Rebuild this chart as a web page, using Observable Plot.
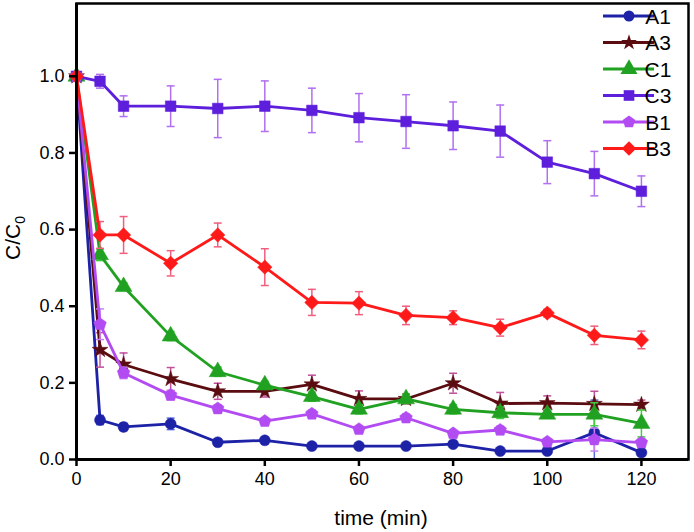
<!DOCTYPE html>
<html>
<head>
<meta charset="utf-8">
<script src="https://cdn.jsdelivr.net/npm/d3@7"></script>
<script src="https://cdn.jsdelivr.net/npm/@observablehq/plot@0.6"></script>
<style>
  body { margin: 0; background: white; }
  #chart { position: relative; width: 694px; height: 532px; }
</style>
</head>
<body>
<div id="chart"></div>
<script>
// ---- data ----
const time = [0, 5, 10, 20, 30, 40, 50, 60, 70, 80, 90, 100, 110, 120];
const seriesNames = ["A1", "A3", "C1", "C3", "B1", "B3"];

const A1 = [1.0, 0.103, 0.085, 0.093, 0.045, 0.050, 0.035, 0.035, 0.035, 0.040, 0.022, 0.022, 0.070, 0.018];
const A1err = [0, 0.012, 0.010, 0.015, 0.008, 0.008, 0.006, 0.006, 0.006, 0.006, 0.006, 0.006, 0.085, 0.006];

const A3 = [1.0, 0.286, 0.248, 0.210, 0.178, 0.178, 0.196, 0.158, 0.158, 0.199, 0.146, 0.147, 0.145, 0.143];
const A3err = [0, 0.045, 0.030, 0.030, 0.021, 0.015, 0.024, 0.021, 0.013, 0.026, 0.029, 0.019, 0.033, 0.012];

const C1 = [1.0, 0.534, 0.451, 0.322, 0.229, 0.194, 0.164, 0.131, 0.158, 0.131, 0.122, 0.118, 0.118, 0.094];
const C1err = [0, 0.015, 0.010, 0.012, 0.012, 0.010, 0.012, 0.012, 0.012, 0.012, 0.015, 0.010, 0.030, 0.035];

const C3 = [1.0, 0.987, 0.922, 0.922, 0.916, 0.922, 0.911, 0.892, 0.882, 0.871, 0.857, 0.776, 0.746, 0.700];
const C3err = [0, 0.018, 0.027, 0.053, 0.076, 0.066, 0.058, 0.063, 0.070, 0.062, 0.068, 0.056, 0.058, 0.040];

const B1 = [1.0, 0.353, 0.226, 0.168, 0.133, 0.100, 0.119, 0.079, 0.109, 0.068, 0.077, 0.046, 0.052, 0.044];
const B1err = [0, 0.040, 0.015, 0.012, 0.010, 0.008, 0.010, 0.008, 0.010, 0.008, 0.010, 0.008, 0.030, 0.010];

const B3 = [1.0, 0.586, 0.586, 0.512, 0.586, 0.502, 0.410, 0.408, 0.376, 0.370, 0.344, 0.382, 0.324, 0.312];
const B3err = [0, 0.035, 0.048, 0.033, 0.031, 0.048, 0.034, 0.030, 0.024, 0.018, 0.022, 0.010, 0.024, 0.023];

const xTicks = [0, 20, 40, 60, 80, 100, 120];
const yTicks = [0.0, 0.2, 0.4, 0.6, 0.8, 1.0];

// ---- styles ----
const pentagon = {
  draw(context, size) {
    const r = Math.sqrt(size / Math.PI) * 1.1;
    for (let k = 0; k < 5; k++) {
      const a = -Math.PI / 2 + k * 2 * Math.PI / 5;
      const x = r * Math.cos(a), y = r * Math.sin(a);
      if (k === 0) context.moveTo(x, y); else context.lineTo(x, y);
    }
    context.closePath();
  }
};
const cap = {
  draw(context, size) {
    const w = Math.sqrt(size / Math.PI);
    context.moveTo(-w, 0);
    context.lineTo(w, 0);
  }
};
const styles = {
  A1: { color: "#1d22a6", err: "#5a6ae0", symbol: "circle", d3sym: d3.symbolCircle, r: 5.5 },
  A3: { color: "#5a0c10", err: "#c0509a", symbol: "star", d3sym: d3.symbolStar, r: 5 },
  C1: { color: "#21a121", err: "#40d040", symbol: "triangle", d3sym: d3.symbolTriangle, r: 6.3 },
  C3: { color: "#5e1fdc", err: "#b070f0", symbol: "square", d3sym: d3.symbolSquare, r: 6 },
  B1: { color: "#b24cf2", err: "#c883f2", symbol: pentagon, d3sym: pentagon, r: 6 },
  B3: { color: "#ff1a1a", err: "#f0607e", symbol: "diamond2", d3sym: d3.symbolDiamond2, r: 6.5 }
};

const valuesBy = { A1, A3, C1, C3, B1, B3 };
const errorsBy = { A1: A1err, A3: A3err, C1: C1err, C3: C3err, B1: B1err, B3: B3err };

const marks = [];
for (const name of seriesNames) {
  const st = styles[name];
  const rows = time.map((t, i) => ({ t, v: valuesBy[name][i], e: errorsBy[name][i] }));
  const errRows = rows.filter(d => d.e > 0);
  marks.push(
    Plot.ruleX(errRows, { x: "t", y1: d => d.v - d.e, y2: d => d.v + d.e, stroke: st.err, strokeWidth: 1.5, clip: "frame" }),
    Plot.dot(errRows, { x: "t", y: d => d.v + d.e, symbol: cap, r: 4, stroke: st.err, strokeWidth: 1.5, fill: "none", clip: "frame" }),
    Plot.dot(errRows, { x: "t", y: d => Math.max(0, d.v - d.e), symbol: cap, r: 4, stroke: st.err, strokeWidth: 1.5, fill: "none", filter: d => d.v - d.e > 0 }),
    Plot.line(rows, { x: "t", y: "v", stroke: st.color, strokeWidth: 2.8 }),
    Plot.dot(rows, { x: "t", y: "v", symbol: st.symbol, r: st.r, fill: st.color, stroke: st.color, strokeWidth: 0.5 })
  );
}

const chart = Plot.plot({
  width: 694,
  height: 532,
  marginLeft: 76,
  marginRight: 6,
  marginTop: 3,
  marginBottom: 73,
  style: { fontFamily: "Liberation Sans, Arial, sans-serif", background: "white", color: "black" },
  x: { domain: [0, 130] },
  y: { domain: [0, 1.19] },
  marks: [
    ...marks,
    Plot.frame({ stroke: "black", strokeWidth: 2.5 }),
    Plot.ruleY([0], { stroke: "black", strokeWidth: 3 }),
    Plot.ruleX([0], { stroke: "black", strokeWidth: 3 }),
    Plot.axisX({ ticks: xTicks, tickSize: 7, tickPadding: 6, fontSize: 18, strokeWidth: 2.5, label: null }),
    Plot.axisY({ ticks: yTicks, tickFormat: d3.format(".1f"), tickSize: 7, tickPadding: 5, fontSize: 18, strokeWidth: 2.5, label: null })
  ]
});
document.getElementById("chart").appendChild(chart);

// ---- axis titles and legend ----
const svg = d3.select(chart);
svg.append("text")
  .attr("x", 381).attr("y", 525)
  .attr("text-anchor", "middle")
  .attr("font-size", 21)
  .attr("font-family", "Liberation Sans, Arial, sans-serif")
  .attr("fill", "black")
  .text("time (min)");

const yl = svg.append("text")
  .attr("transform", "translate(20,238) rotate(-90)")
  .attr("text-anchor", "middle")
  .attr("font-size", 21)
  .attr("font-family", "Liberation Sans, Arial, sans-serif")
  .attr("fill", "black");
yl.append("tspan").text("C/C");
yl.append("tspan").attr("font-size", 14).attr("dy", 5).text("0");

const lg = svg.append("g").attr("font-family", "Liberation Sans, Arial, sans-serif");
seriesNames.forEach((name, i) => {
  const st = styles[name];
  const y = 16 + i * 26.5;
  lg.append("line").attr("x1", 603).attr("x2", 654).attr("y1", y).attr("y2", y)
    .attr("stroke", st.color).attr("stroke-width", 2.8);
  lg.append("path")
    .attr("transform", `translate(629,${y})`)
    .attr("d", d3.symbol(st.d3sym, Math.PI * st.r * st.r)())
    .attr("fill", st.color);
  lg.append("text").attr("x", 658).attr("y", y).attr("dy", "0.36em")
    .attr("font-size", 21).attr("fill", "black").text(name);
});
</script>
</body>
</html>
